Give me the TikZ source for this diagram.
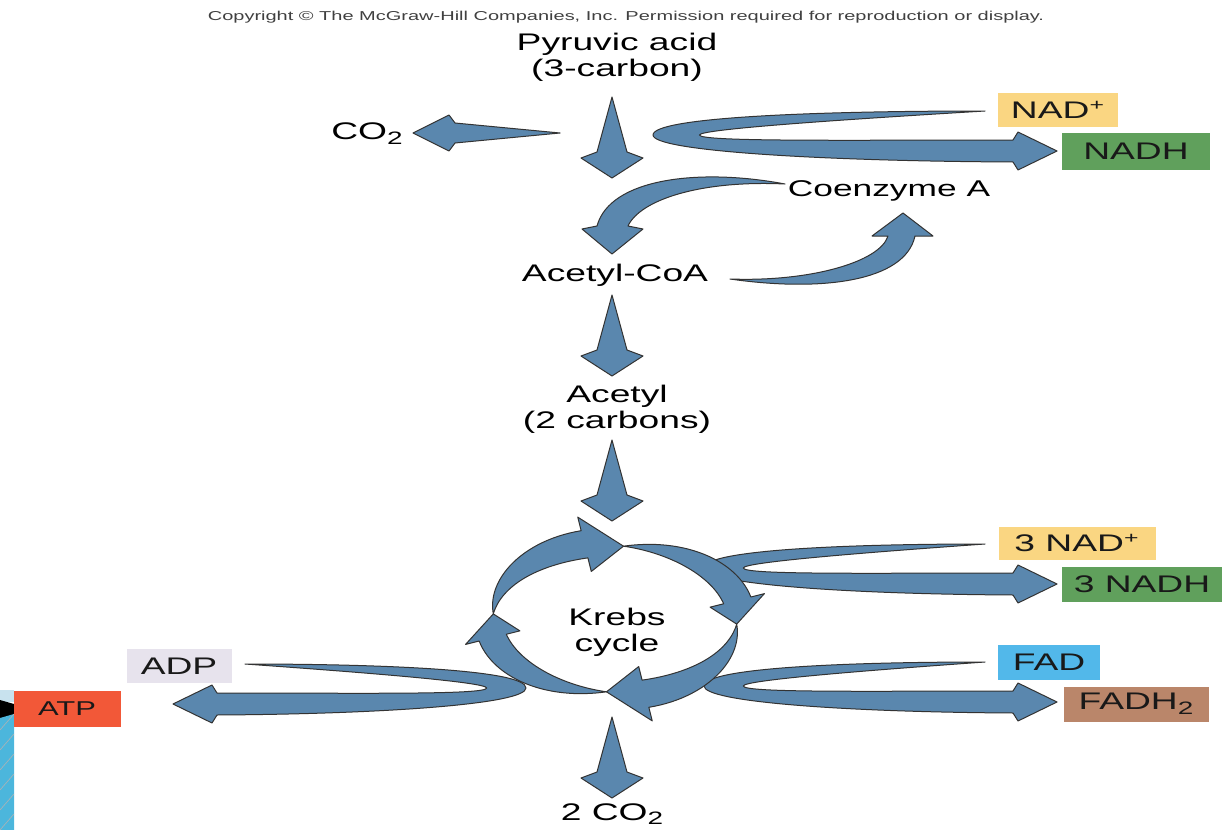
\documentclass[tikz,border=0pt]{standalone}
\usepackage{fontspec}
\setmainfont{Liberation Sans}[FakeStretch=1.55]
\usepackage{tikz}

\definecolor{flowblue}{RGB}{90,135,174}
\definecolor{nadyellow}{RGB}{250,214,130}
\definecolor{nadhgreen}{RGB}{96,160,92}
\definecolor{fadblue}{RGB}{82,184,234}
\definecolor{fadhbrown}{RGB}{186,134,106}
\definecolor{adpgray}{RGB}{231,227,237}
\definecolor{atpred}{RGB}{242,88,56}
\definecolor{cornerblue}{RGB}{76,182,220}
\definecolor{cornerlight}{RGB}{200,226,238}

% straight spear arrow: tail, angle, length, body half width, head half width, head length
\newcommand{\spear}[6]{%
  \begin{scope}[shift={#1},rotate=#2]
    \draw[flow] (0,0) -- (#3-#6-6,#4) -- (#3-#6,#5) -- (#3,0)
      -- (#3-#6,-#5) -- (#3-#6-6,-#4) -- cycle;
  \end{scope}}

% u-turn arrow: tail, xscale (1 = head to the right), turn distance
\newcommand{\uturn}[3]{%
  \begin{scope}[shift={#1},xscale=#2]
    \draw[flow] (0,0) .. controls (-0.5*#3,0) and (-#3,6) .. (-#3,24)
      .. controls (-#3,40) and (-0.5*#3,50) .. (28,51)
      -- (33,59) -- (72,40) -- (33,21) -- (28,29)
      .. controls (-0.4*#3,29) and (-0.86*#3,31) .. (-0.86*#3,24)
      .. controls (-0.86*#3,18) and (-0.4*#3,8) .. (0,0) -- cycle;
  \end{scope}}

% one quarter of the Krebs ring: start angle, end angle
\newcommand{\krebsarc}[2]{%
  \pgfmathsetmacro{\ka}{#1}
  \pgfmathsetmacro{\kh}{#2-18}
  \pgfmathsetmacro{\kb}{#2}
  \draw[flow] plot[domain=\ka:\kh,samples=30]
      ({\kx+(\krx+18*sin(90*(\x-\ka)/(\kh-\ka)))*cos(\x)},{\ky+(\kry+18*sin(90*(\x-\ka)/(\kh-\ka)))*sin(\x)})
    -- ({\kx+(\krx+32)*cos(\kh)},{\ky+(\kry+32)*sin(\kh)})
    -- ({\kx+\krx*cos(\kb)},{\ky+\kry*sin(\kb)})
    -- ({\kx+(\krx-24)*cos(\kh)},{\ky+(\kry-24)*sin(\kh)})
    -- plot[domain=\kh:\ka,samples=30]
      ({\kx+(\krx-10*sin(90*(\x-\ka)/(\kh-\ka)))*cos(\x)},{\ky+(\kry-10*sin(90*(\x-\ka)/(\kh-\ka)))*sin(\x)})
    -- cycle;}

\begin{document}
\begin{tikzpicture}[x=0.5pt,y=-0.5pt,
    flow/.style={fill=flowblue,draw=black!80,line width=0.5pt,line join=round},
    lbl/.style={font=\fontsize{12}{13}\selectfont,align=center,inner sep=0pt,text=black},
    tag/.style={font=\fontsize{12}{13}\selectfont,inner sep=0pt,text=black!90}]

  \useasboundingbox (0,0) rectangle (1222,830);

  \def\kx{615}
  \def\ky{619}
  \def\krx{122}
  \def\kry{73}

  % slide corner
  \fill[cornerlight] (0,690) rectangle (14,702);
  \fill[black] (0,700) -- (14,704) -- (14,716) -- (0,722) -- cycle;
  \fill[cornerblue] (0,718) -- (14,714) -- (14,830) -- (0,830) -- cycle;
  \foreach \s in {730,750,...,830}
    \draw[black!30,line width=0.3pt] (0,\s) -- (14,\s-16);

  % texts
  \node[lbl,font=\fontsize{6.45}{7.5}\selectfont,text=black!75] (copy) at (626,17)
    {Copyright \textcopyright{} The McGraw-Hill Companies, Inc. Permission required for reproduction or display.};
  \node[lbl] (pyr) at (617,57) {Pyruvic acid\\(3-carbon)};
  \node[lbl] (co2) at (367,134) {CO\raisebox{-0.4ex}{\fontsize{9}{9}\selectfont 2}};
  \node[lbl,font=\fontsize{11.4}{13}\selectfont] (coa) at (889,191) {Coenzyme A};
  \node[lbl] (acoa) at (615,275) {Acetyl-CoA};
  \node[lbl] (acetyl) at (617,409) {Acetyl\\(2 carbons)};
  \node[lbl] (krebs) at (617,632) {Krebs\\cycle};
  \node[lbl] (co2b) at (612,814) {2 CO\raisebox{-0.3ex}{\fontsize{9}{9}\selectfont 2}};

  % carrier boxes
  \node[tag,fill=nadyellow,minimum width=60pt,minimum height=17pt] (nad) at (1058,110) {NAD\textsuperscript{+}};
  \node[tag,fill=nadhgreen,minimum width=74pt,minimum height=18.5pt] (nadh) at (1136,151) {NADH};
  \node[tag,fill=nadyellow,minimum width=78.5pt,minimum height=16.5pt] (nad3) at (1077,543) {3 NAD\textsuperscript{+}};
  \node[tag,fill=nadhgreen,minimum width=80pt,minimum height=17.5pt] (nadh3) at (1142,584) {3 NADH};
  \node[tag,fill=fadblue,minimum width=51pt,minimum height=17.5pt] (fad) at (1049,662) {FAD};
  \node[tag,fill=fadhbrown,minimum width=72.5pt,minimum height=17.5pt] (fadh) at (1136,704) {FADH\raisebox{-0.4ex}{\fontsize{9}{9}\selectfont 2}};
  \node[tag,fill=adpgray,minimum width=52.5pt,minimum height=17pt] (adp) at (179,666) {ADP};
  \node[tag,fill=atpred,minimum width=53.5pt,minimum height=18pt,font=\fontsize{10}{12}\selectfont] (atp) at (67,709) {ATP};

  % straight arrows
  \foreach \ty in {97,295,440,717}
    \spear{(612,\ty)}{-90}{81}{15}{31}{20};
  \spear{(560,133)}{180}{147}{10}{18}{36};

  % u-turn arrows
  \uturn{(985,111)}{1}{332}
  \uturn{(985,544)}{1}{281}
  \uturn{(985,662)}{1}{281}
  \uturn{(245,664)}{-1}{281}

  % coenzyme A loop
  \draw[flow] (785,184) .. controls (700,168) and (610,178) .. (597,226)
    -- (582,229) -- (612,254) -- (643,229) -- (628,226)
    .. controls (640,200) and (700,180) .. (785,184) -- cycle;
  \draw[flow] (730,279) .. controls (820,292) and (905,282) .. (915,236)
    -- (933,236) -- (903,213) -- (872,236) -- (888,236)
    .. controls (880,262) and (810,282) .. (730,279) -- cycle;

  % Krebs ring
  \foreach \a in {184,274,364,454}
    \krebsarc{\a}{\a+90};

\end{tikzpicture}
\end{document}
